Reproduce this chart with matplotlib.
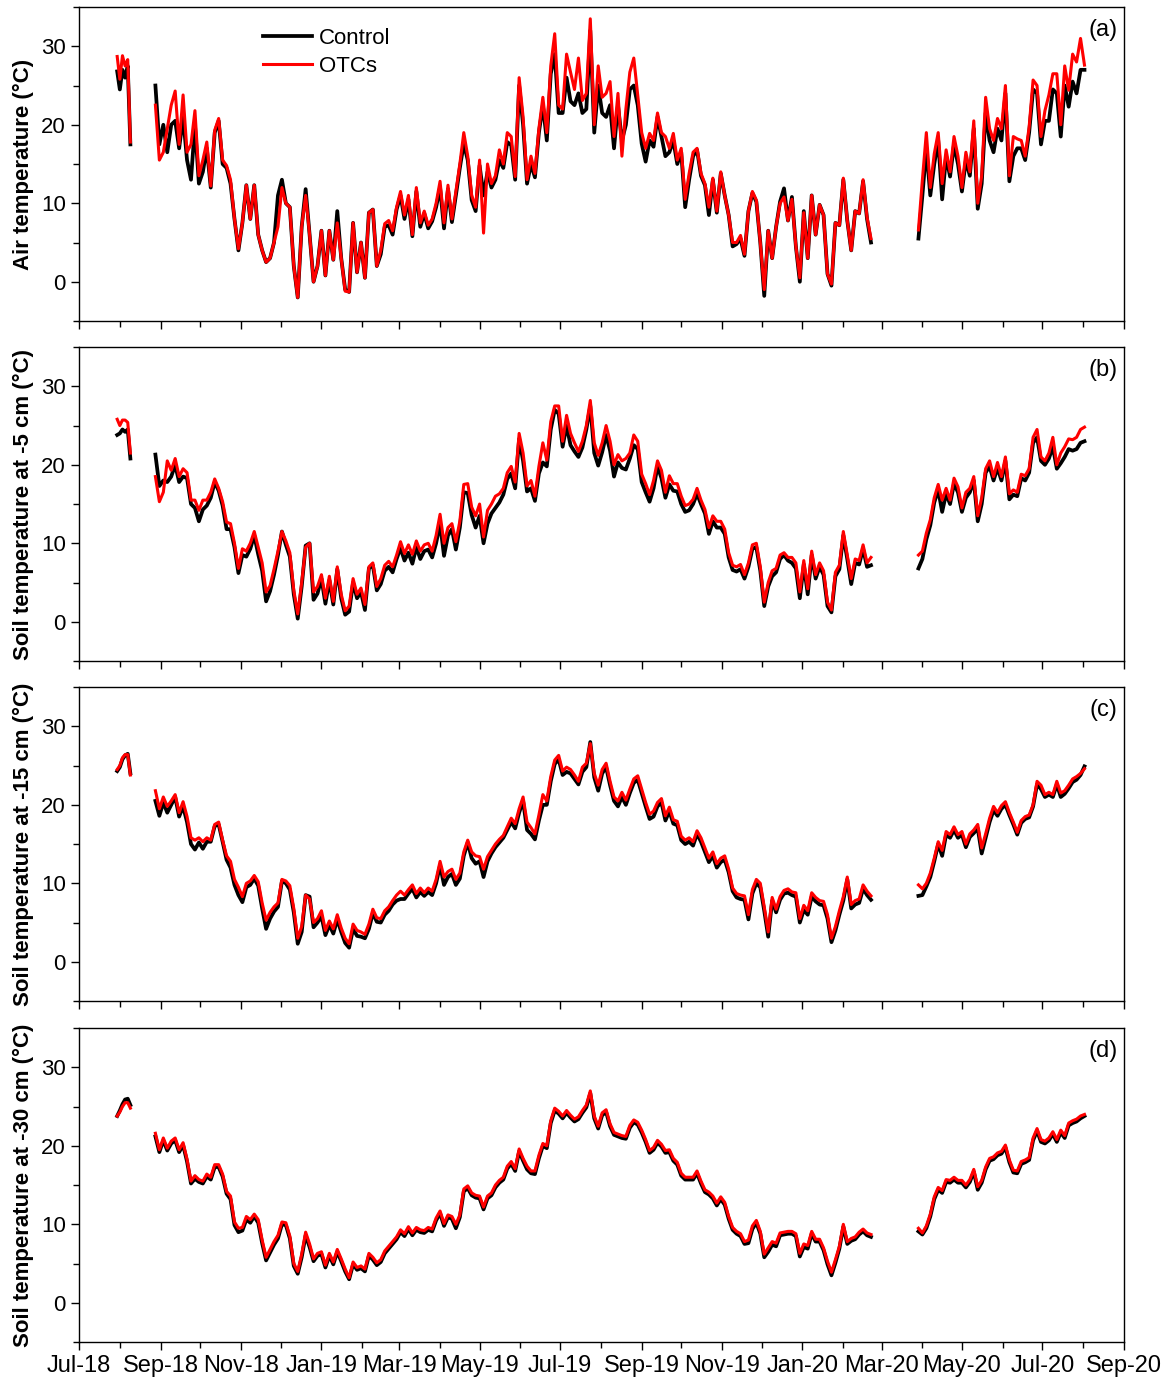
import numpy as np
import pandas as pd
import matplotlib
matplotlib.use("Agg")
import matplotlib.pyplot as plt
import matplotlib.dates as mdates
from matplotlib.ticker import MultipleLocator

plt.rcParams['font.family'] = ['Liberation Sans', 'DejaVu Sans']

# Logger segments: (first day, step in days, number of records)
segments = [('2018-07-30', 2, 6), ('2018-08-28', 3, 182), ('2020-03-29', 3, 43)]

# Air temperature (degC)
air_ctrl = [
    26.8, 24.5, 27.0, 26.0, 27.5, 17.5,
    25.0, 17.5, 20.0, 16.5, 20.0, 20.5, 17.0, 21.0, 15.5, 13.0,
    20.0, 12.5, 14.0, 17.0, 12.0, 19.0, 20.5, 15.0, 14.5, 12.5,
    8.0, 4.0, 7.5, 12.3, 8.0, 12.3, 6.0, 4.0, 2.5, 3.0,
    5.0, 11.0, 13.0, 10.0, 9.5, 2.0, -2.0, 7.0, 11.8, 6.0,
    0.0, 2.0, 6.5, 0.8, 6.5, 2.8, 9.0, 3.0, -1.0, -1.3,
    7.5, 1.2, 5.0, 0.5, 8.8, 9.2, 2.0, 3.5, 7.0, 7.2,
    6.0, 9.2, 11.0, 8.0, 10.5, 5.8, 11.5, 7.0, 8.7, 6.8,
    7.7, 9.5, 12.0, 6.8, 11.8, 7.6, 11.0, 14.5, 17.6, 15.5,
    10.4, 9.0, 14.8, 11.0, 14.0, 12.0, 13.0, 15.5, 14.5, 17.8,
    17.4, 13.0, 25.0, 20.0, 12.5, 15.0, 13.3, 19.0, 22.5, 18.0,
    26.5, 29.0, 21.5, 21.5, 26.0, 23.0, 22.5, 24.0, 21.5, 22.0,
    32.0, 19.0, 25.0, 21.5, 21.0, 22.5, 17.0, 22.5, 18.0, 20.0,
    24.5, 25.0, 22.5, 17.6, 15.3, 18.0, 17.2, 21.0, 18.5, 16.0,
    16.5, 18.0, 15.0, 16.5, 9.5, 13.0, 16.0, 16.8, 13.5, 12.3,
    8.5, 13.0, 8.8, 13.8, 11.0, 8.5, 4.5, 4.8, 5.5, 3.3,
    9.0, 11.3, 10.2, 5.0, -1.8, 6.5, 3.0, 7.0, 10.2, 11.9,
    7.8, 10.8, 4.5, 0.0, 9.0, 3.0, 11.0, 6.0, 9.8, 8.5,
    1.0, -0.5, 7.5, 7.2, 13.0, 7.8, 4.0, 9.0, 8.7, 12.8,
    8.0, 5.0,
    5.5, 11.0, 17.0, 11.0, 15.0, 18.0, 10.5, 16.0, 13.4, 17.5,
    15.0, 11.5, 15.5, 13.5, 19.5, 9.3, 12.5, 21.5, 18.0, 16.5,
    19.5, 18.0, 24.0, 12.8, 16.0, 17.0, 17.0, 15.5, 19.0, 24.5,
    24.0, 17.5, 20.5, 20.5, 24.5, 24.0, 18.5, 25.0, 22.3, 25.5,
    24.0, 27.0, 27.0,
]
air_otc = [
    28.7, 25.8, 28.8, 27.5, 28.3, 17.8,
    22.5, 15.5, 16.5, 19.5, 22.5, 24.3, 17.5, 23.8, 16.5, 17.5,
    21.8, 13.5, 15.5, 17.8, 12.2, 19.3, 20.8, 15.5, 14.8, 13.0,
    8.0, 4.2, 7.5, 12.3, 8.0, 12.3, 6.0, 4.0, 2.5, 3.0,
    5.0, 7.0, 12.0, 10.0, 9.5, 2.0, -2.0, 7.0, 11.0, 6.0,
    0.0, 2.0, 6.5, 0.8, 6.5, 2.8, 7.5, 3.0, -1.2, -1.3,
    7.5, 1.2, 5.0, 0.5, 8.8, 9.2, 2.0, 4.0, 7.4, 7.8,
    6.5, 9.5, 11.5, 8.5, 11.0, 6.0, 12.0, 7.5, 9.0, 7.2,
    8.0, 10.0, 12.8, 7.5, 12.3, 8.0, 11.5, 15.0, 19.0, 16.0,
    11.0, 9.5, 15.5, 6.2, 15.0, 12.5, 13.5, 16.8, 15.0, 19.0,
    18.5, 13.4, 26.0, 21.0, 13.0, 16.0, 13.8, 19.5, 23.5, 19.0,
    27.5, 31.6, 22.5, 22.0, 29.0, 26.7, 24.5, 28.5, 23.1, 24.0,
    33.5, 20.0, 27.5, 23.5, 24.0, 25.5, 18.5, 24.0, 16.0, 22.0,
    26.7, 28.5, 23.8, 19.0, 17.0, 18.9, 18.0, 21.5, 19.0, 18.5,
    17.0, 18.9, 15.5, 17.0, 10.5, 13.8, 16.5, 17.0, 13.8, 12.5,
    9.5, 13.2, 9.0, 14.0, 11.0, 8.5, 5.0, 5.0, 5.9, 3.5,
    9.0, 11.5, 10.4, 5.0, -1.0, 6.5, 3.0, 7.0, 10.0, 10.8,
    7.8, 10.5, 4.5, 0.5, 8.8, 3.0, 11.0, 6.0, 9.8, 8.5,
    1.0, -0.3, 7.5, 7.2, 13.2, 7.8, 4.0, 9.0, 8.7, 13.0,
    8.2, 5.5,
    6.6, 13.0, 19.0, 12.0, 16.3, 19.0, 12.5, 16.8, 14.0, 18.5,
    16.0, 12.0, 16.5, 14.0, 20.5, 10.0, 13.5, 23.5, 19.5, 18.0,
    20.8, 19.5, 25.0, 13.5, 18.5, 18.2, 18.0, 16.0, 19.7, 25.7,
    25.0, 18.5, 21.8, 23.8, 26.5, 26.5, 20.0, 27.5, 24.4, 29.0,
    28.0, 31.0, 27.6,
]

# Soil temperature at -5 cm (degC)
soil5_ctrl = [
    23.8, 24.0, 24.5, 24.2, 24.5, 20.8,
    21.3, 17.3, 18.0, 17.8, 18.5, 20.0, 17.8, 18.5, 18.3, 15.0,
    14.5, 12.8, 14.3, 14.8, 15.8, 17.8, 16.7, 14.8, 11.8, 11.8,
    9.5, 6.2, 8.5, 8.3, 9.3, 11.0, 8.6, 6.5, 2.6, 3.9,
    6.0, 8.5, 11.5, 9.8, 8.3, 3.5, 0.4, 4.5, 9.7, 10.0,
    2.8, 3.6, 5.5, 2.3, 5.3, 2.2, 6.7, 3.0, 0.9, 1.3,
    5.0, 3.0, 3.8, 1.5, 6.8, 7.2, 4.0, 4.8, 6.5, 7.0,
    6.3, 8.0, 9.4, 7.8, 8.8, 7.4, 9.5, 8.0, 9.0, 9.2,
    8.2, 10.0, 12.5, 8.4, 11.0, 11.8, 9.2, 12.0, 16.5, 16.4,
    13.6, 12.0, 13.5, 10.0, 12.5, 13.8, 14.5, 15.2, 16.2, 18.2,
    18.9, 17.0, 23.3, 20.5, 16.6, 17.0, 15.4, 18.9, 20.3, 19.8,
    24.5, 27.0, 26.5, 22.3, 25.0, 22.5, 21.7, 21.0, 22.2, 24.5,
    27.5, 21.5, 19.9, 21.6, 23.8, 21.8, 18.5, 20.3, 19.6, 19.4,
    20.8, 22.5, 22.0, 17.8, 16.5, 15.3, 17.0, 19.8, 18.3, 15.8,
    17.5, 16.7, 16.6, 15.0, 14.0, 14.2, 15.0, 16.3, 15.0, 13.8,
    11.2, 12.8, 12.0, 12.0, 11.2, 8.2, 6.6, 6.4, 6.7, 5.5,
    7.0, 9.3, 9.5, 6.5, 2.0, 4.5, 5.8, 6.3, 8.0, 8.5,
    7.8, 7.5, 6.8, 3.0, 7.3, 3.5, 8.5, 5.5, 7.0, 6.0,
    2.0, 1.2, 5.8, 6.7, 11.0, 8.0, 4.8, 7.5, 7.3, 9.3,
    7.0, 7.2,
    6.8, 8.0, 10.5, 12.3, 15.2, 16.8, 14.0, 16.3, 15.0, 17.6,
    16.5, 14.0, 15.8, 16.5, 18.0, 12.8, 15.0, 19.0, 19.8, 18.0,
    19.6, 18.0, 20.5, 15.6, 16.2, 16.0, 18.3, 18.0, 19.0, 22.8,
    23.5, 20.5, 20.0, 20.8, 22.3, 19.5, 20.2, 21.0, 22.0, 21.8,
    22.0, 22.8, 23.0,
]
soil5_otc = [
    25.8, 25.0, 25.7, 25.7, 25.4, 21.5,
    18.5, 15.3, 16.5, 20.5, 19.3, 20.8, 18.5, 19.5, 19.0, 15.5,
    15.5, 14.2, 15.5, 15.5, 16.5, 18.2, 17.0, 15.3, 12.7, 12.5,
    10.0, 6.8, 9.3, 9.0, 10.0, 11.5, 9.5, 7.5, 3.8, 4.6,
    6.7, 9.0, 11.5, 10.3, 8.8, 4.0, 1.0, 5.0, 9.5, 10.0,
    3.8, 4.5, 6.0, 3.0, 5.8, 2.6, 7.0, 3.5, 1.4, 2.0,
    5.5, 3.5, 4.3, 2.2, 7.0, 7.5, 4.5, 5.5, 7.2, 7.7,
    7.0, 8.5, 10.2, 8.7, 9.8, 8.6, 10.3, 9.0, 9.8, 10.0,
    9.0, 11.0, 13.7, 10.0, 12.0, 12.5, 10.2, 12.8, 17.5, 17.6,
    14.6, 13.5, 15.0, 10.8, 14.2, 15.0, 16.0, 16.3, 17.0, 19.0,
    19.8, 17.8, 24.0, 21.5, 17.3, 18.0, 16.0, 19.8, 22.8, 20.6,
    25.5, 27.5, 27.5, 23.0, 26.3, 24.0, 22.8, 21.7, 23.0, 25.0,
    28.2, 22.8, 21.2, 22.8, 25.0, 23.0, 20.0, 21.3, 20.5, 20.8,
    21.5, 23.8, 23.0, 18.8, 17.6, 16.2, 18.0, 20.5, 19.3, 16.5,
    18.6, 17.6, 17.6, 16.0, 14.8, 15.0, 15.6, 17.0, 15.5, 14.3,
    12.0, 13.5, 12.8, 12.8, 11.8, 8.8, 7.2, 7.0, 7.3, 6.0,
    7.5, 9.8, 10.0, 7.0, 2.5, 5.0, 6.5, 6.8, 8.5, 8.8,
    8.2, 8.2, 7.5, 3.8, 7.8, 4.2, 9.0, 6.0, 7.5, 6.5,
    2.5, 1.5, 6.3, 7.2, 11.5, 8.5, 5.5, 8.0, 7.8, 9.8,
    7.5, 8.2,
    8.5, 9.0, 11.3, 13.0, 15.8, 17.5, 15.5, 17.0, 15.5, 18.3,
    17.2, 14.5, 16.5, 17.0, 18.5, 13.5, 15.8, 19.5, 20.5, 18.5,
    20.3, 18.5, 21.0, 16.3, 16.8, 16.5, 18.8, 18.6, 19.5, 23.5,
    24.5, 21.0, 20.5, 21.5, 23.5, 20.0, 21.5, 22.3, 23.3, 23.2,
    23.5, 24.5, 24.8,
]

# Soil temperature at -15 cm (degC)
soil15_ctrl = [
    24.3, 24.8, 25.8, 26.3, 26.5, 24.0,
    20.5, 18.6, 20.3, 19.0, 20.0, 21.0, 18.5, 19.8, 17.8, 15.0,
    14.3, 15.2, 14.4, 15.3, 15.3, 17.3, 17.5, 15.3, 13.0, 12.0,
    9.8, 8.5, 7.6, 9.5, 9.8, 10.6, 9.7, 6.8, 4.2, 5.5,
    6.4, 7.0, 10.3, 10.0, 9.2, 6.3, 2.3, 3.8, 8.5, 8.3,
    4.4, 5.0, 5.8, 3.4, 4.7, 3.6, 5.4, 3.8, 2.4, 1.8,
    4.2, 3.3, 3.2, 3.0, 4.2, 6.2, 5.1, 5.0, 6.0, 6.5,
    7.3, 7.8, 8.0, 8.0, 8.7, 9.3, 8.2, 8.9, 8.4, 8.9,
    8.5, 10.0, 12.3, 9.8, 10.8, 11.2, 9.8, 10.6, 13.5, 15.2,
    13.2, 12.5, 12.8, 10.8, 12.8, 13.8, 14.6, 15.2, 15.8, 16.8,
    17.8, 17.0, 19.0, 20.5, 16.8, 16.3, 15.6, 18.0, 20.0, 20.0,
    23.0, 25.2, 25.8, 23.8, 24.2, 24.0, 23.3, 22.6, 24.2, 24.8,
    28.0, 23.5, 21.8, 24.0, 24.8, 22.5, 20.5, 19.8, 21.0, 20.0,
    21.5, 22.8, 23.2, 21.5, 19.8, 18.2, 18.5, 19.8, 20.3, 18.0,
    19.2, 17.6, 17.4, 15.5, 15.0, 15.3, 14.8, 16.3, 15.3, 14.0,
    12.7, 13.5, 12.0, 12.7, 13.0, 11.4, 9.0, 8.2, 8.0, 7.9,
    5.4, 8.7, 10.0, 9.5, 6.5, 3.2, 7.8, 6.3, 7.9, 8.7,
    8.8, 8.5, 8.3, 5.0, 6.6, 6.0, 8.3, 7.7, 7.3, 7.2,
    5.5, 2.5, 4.0, 6.0, 7.8, 10.5, 6.8, 7.3, 7.5, 9.3,
    8.5, 7.9,
    8.4, 8.5, 9.6, 10.8, 12.8, 15.0, 13.5, 16.2, 15.8, 16.8,
    15.8, 16.2, 14.6, 15.9, 16.4, 17.0, 13.8, 15.8, 17.8, 19.3,
    18.6, 19.5, 20.0, 18.7, 17.5, 16.2, 17.7, 18.2, 18.4, 19.8,
    22.6, 22.0, 21.0, 21.3, 21.0, 22.6, 21.0, 21.4, 22.1, 22.9,
    23.2, 23.8, 24.9,
]
soil15_otc = [
    24.5, 25.0, 26.0, 26.4, 26.4, 23.8,
    21.8, 19.5, 21.0, 19.8, 20.5, 21.3, 19.0, 20.4, 18.5, 15.8,
    15.5, 15.8, 15.3, 15.8, 15.5, 17.5, 17.8, 15.5, 13.5, 12.8,
    10.5, 9.5, 8.3, 10.0, 10.3, 11.0, 10.2, 7.5, 5.3, 6.3,
    7.0, 7.5, 10.5, 10.3, 9.7, 6.8, 3.0, 4.5, 8.5, 8.0,
    5.0, 5.5, 6.5, 4.0, 5.2, 4.2, 6.0, 4.3, 3.0, 2.3,
    4.8, 4.0, 3.8, 3.5, 4.8, 6.7, 5.6, 5.5, 6.5, 7.0,
    7.8, 8.5, 9.0, 8.5, 9.2, 9.8, 8.7, 9.4, 8.8, 9.4,
    9.0, 10.5, 12.8, 10.8, 11.5, 11.8, 10.5, 11.3, 14.0, 15.5,
    14.0, 13.5, 13.4, 11.8, 13.4, 14.2, 15.0, 15.6, 16.1, 17.2,
    18.3, 17.6, 19.5, 21.0, 17.8, 17.1, 16.3, 18.7, 21.3, 20.5,
    23.6, 25.7, 26.3, 24.3, 24.8, 24.5, 23.8, 23.0, 24.8, 25.3,
    27.8, 24.0, 22.5, 24.5, 25.3, 23.0, 21.0, 20.5, 21.6, 20.6,
    22.0, 23.3, 23.7, 22.0, 20.3, 18.8, 19.2, 20.3, 20.8, 18.6,
    19.7, 18.1, 17.9, 16.0, 15.5, 15.8, 15.3, 16.7, 15.8, 14.5,
    13.2, 14.0, 12.5, 13.2, 13.5, 11.8, 9.4, 8.7, 8.5, 8.4,
    6.0, 9.2, 10.5, 10.0, 7.0, 3.8, 8.2, 6.7, 8.3, 9.1,
    9.3, 8.9, 8.8, 5.5, 7.2, 6.5, 8.8, 8.2, 7.8, 7.7,
    6.0, 3.0, 4.5, 6.5, 8.3, 10.8, 7.3, 7.8, 8.0, 9.8,
    9.0, 8.4,
    9.8, 9.3, 10.0, 11.3, 13.2, 15.3, 14.2, 16.6, 16.2, 17.2,
    16.2, 16.6, 15.0, 16.3, 16.8, 17.5, 14.5, 16.3, 18.3, 19.8,
    19.0, 19.9, 20.4, 19.0, 17.8, 16.5, 18.0, 18.5, 18.7, 20.0,
    23.0, 22.5, 21.3, 21.6, 21.3, 23.0, 21.5, 21.8, 22.5, 23.3,
    23.6, 24.0, 24.6,
]

# Soil temperature at -30 cm (degC)
soil30_ctrl = [
    23.8, 24.5, 25.3, 25.9, 26.0, 25.2,
    21.2, 19.2, 20.7, 19.4, 20.3, 20.7, 19.2, 20.1, 18.0, 15.2,
    15.8, 15.4, 15.2, 16.1, 15.7, 17.3, 17.3, 16.1, 13.9, 13.2,
    9.9, 9.0, 9.2, 10.6, 10.2, 11.0, 10.2, 7.6, 5.4, 6.4,
    7.4, 8.2, 10.0, 9.9, 8.2, 4.7, 3.7, 5.8, 8.6, 7.1,
    5.3, 6.0, 6.2, 4.5, 6.0, 4.9, 6.5, 5.3, 4.0, 3.0,
    4.9, 4.2, 4.4, 4.0, 6.0, 5.5, 4.8, 5.2, 6.3, 6.9,
    7.5, 8.1, 9.0, 8.5, 9.4, 8.6, 9.3, 9.0, 8.9, 9.3,
    9.1, 10.5, 11.4, 9.8, 10.9, 10.7, 9.5, 10.9, 14.2, 14.6,
    13.7, 13.4, 13.3, 11.9, 13.3, 13.7, 14.7, 15.3, 15.7, 17.1,
    17.7, 16.8, 19.3, 18.1, 17.0, 16.5, 16.4, 18.4, 20.0, 19.7,
    22.9, 24.5, 24.1, 23.5, 24.2, 23.6, 23.1, 23.4, 24.2, 24.9,
    26.7, 23.5, 22.2, 23.9, 24.3, 22.5, 21.4, 21.2, 21.0, 20.9,
    22.3, 23.0, 22.7, 21.7, 20.5, 19.1, 19.5, 20.4, 19.9, 19.1,
    19.2, 18.1, 17.6, 16.2, 15.7, 15.7, 15.7, 16.5, 15.2, 14.1,
    13.8, 13.3, 12.4, 13.2, 12.5, 10.7, 9.3, 8.8, 8.5, 7.5,
    7.6, 9.4, 10.2, 8.8, 5.8, 6.5, 7.4, 7.2, 8.6, 8.7,
    8.8, 8.8, 8.5, 5.9, 7.1, 6.9, 8.8, 7.8, 7.8, 6.7,
    4.9, 3.5, 5.1, 6.9, 9.7, 7.5, 7.9, 8.1, 8.7, 9.1,
    8.6, 8.4,
    9.1, 8.7, 9.5, 11.0, 13.2, 14.4, 14.0, 15.4, 15.3, 15.7,
    15.3, 15.3, 14.7, 15.4, 16.7, 14.4, 15.3, 17.0, 18.1, 18.3,
    18.8, 19.0, 19.8, 17.9, 16.6, 16.5, 17.7, 17.9, 18.2, 20.7,
    21.9, 20.5, 20.3, 20.7, 21.5, 20.5, 21.7, 21.0, 22.6, 22.9,
    23.1, 23.5, 23.8,
]
soil30_otc = [
    23.8, 24.3, 25.0, 25.5, 25.5, 24.8,
    21.6, 19.5, 21.0, 19.7, 20.6, 21.0, 19.5, 20.4, 18.3, 15.5,
    16.2, 15.7, 15.5, 16.4, 16.0, 17.6, 17.6, 16.4, 14.2, 13.6,
    10.3, 9.5, 9.6, 11.0, 10.6, 11.3, 10.6, 8.0, 5.8, 6.8,
    7.8, 8.6, 10.3, 10.2, 8.5, 5.0, 4.0, 6.2, 9.0, 7.5,
    5.6, 6.3, 6.5, 4.8, 6.3, 5.2, 6.8, 5.6, 4.3, 3.2,
    5.2, 4.5, 4.7, 4.3, 6.3, 5.8, 5.1, 5.5, 6.6, 7.2,
    7.8, 8.4, 9.3, 8.8, 9.7, 8.9, 9.6, 9.3, 9.2, 9.6,
    9.4, 10.8, 11.7, 10.1, 11.2, 11.0, 10.0, 11.2, 14.5, 14.9,
    14.0, 13.7, 13.6, 12.2, 13.6, 14.0, 15.0, 15.6, 16.0, 17.4,
    18.0, 17.1, 19.6, 18.4, 17.4, 16.8, 16.8, 18.8, 20.3, 20.0,
    23.2, 24.8, 24.4, 23.8, 24.5, 23.9, 23.4, 23.7, 24.5, 25.2,
    27.0, 23.8, 22.5, 24.2, 24.6, 22.8, 21.7, 21.5, 21.3, 21.2,
    22.6, 23.3, 23.0, 22.0, 20.8, 19.4, 19.8, 20.7, 20.2, 19.4,
    19.5, 18.4, 17.9, 16.5, 16.0, 16.0, 16.0, 16.8, 15.5, 14.4,
    14.1, 13.6, 12.7, 13.5, 12.8, 11.0, 9.6, 9.1, 8.8, 7.8,
    8.0, 9.8, 10.5, 9.1, 6.2, 7.0, 7.8, 7.6, 8.9, 9.0,
    9.1, 9.1, 8.8, 6.3, 7.5, 7.3, 9.1, 8.1, 8.1, 7.0,
    5.3, 3.9, 5.5, 7.2, 10.0, 7.8, 8.2, 8.4, 9.0, 9.4,
    8.9, 8.7,
    9.5, 8.9, 9.8, 11.3, 13.5, 14.7, 14.3, 15.7, 15.6, 16.0,
    15.6, 15.6, 15.0, 15.7, 17.0, 14.8, 15.6, 17.3, 18.4, 18.6,
    19.1, 19.3, 20.1, 18.2, 16.9, 16.8, 18.0, 18.2, 18.5, 21.0,
    22.2, 20.8, 20.6, 21.0, 21.8, 20.8, 22.0, 21.3, 22.9, 23.2,
    23.4, 23.8, 24.0,
]

ylabels = ['Air temperature (°C)', 'Soil temperature at -5 cm (°C)',
           'Soil temperature at -15 cm (°C)', 'Soil temperature at -30 cm (°C)']
panel_tags = ['(a)', '(b)', '(c)', '(d)']
series = [(air_ctrl, air_otc), (soil5_ctrl, soil5_otc),
          (soil15_ctrl, soil15_otc), (soil30_ctrl, soil30_otc)]

seg_dates = [pd.date_range(s, periods=n, freq=f'{d}D') for s, d, n in segments]


def split(values):
    values = np.asarray(values, dtype=float)
    assert len(values) == sum(n for _, _, n in segments), len(values)
    out, i = [], 0
    for _, _, n in segments:
        out.append(values[i:i + n])
        i += n
    return out


fig = plt.figure(figsize=(11.7, 13.8), dpi=100)
left, width, height = 0.0675, 0.8932, 0.2275
bottoms = [0.7674, 0.5210, 0.2746, 0.0275]

for i, ((ctrl, otc), ylab, tag) in enumerate(zip(series, ylabels, panel_tags)):
    ax = fig.add_axes([left, bottoms[i], width, height])
    for d, c, o in zip(seg_dates, split(ctrl), split(otc)):
        lc, = ax.plot(d, c, color='black', lw=2.7, solid_joinstyle='round')
        lo, = ax.plot(d, o, color='red', lw=2.2, solid_joinstyle='round')

    ax.set_xlim(pd.Timestamp('2018-07-01'), pd.Timestamp('2020-09-01'))
    ax.set_ylim(-5, 35)
    ax.set_yticks([0, 10, 20, 30])
    ax.yaxis.set_minor_locator(MultipleLocator(5))
    ax.xaxis.set_major_locator(mdates.MonthLocator(bymonth=[1, 3, 5, 7, 9, 11]))
    ax.xaxis.set_minor_locator(mdates.MonthLocator())
    ax.xaxis.set_major_formatter(mdates.DateFormatter('%b-%y'))
    ax.tick_params(which='major', direction='out', length=6, width=1.0, labelsize=16)
    ax.tick_params(axis='x', which='major', labelsize=17)
    ax.tick_params(which='minor', direction='out', length=4, width=1.0)
    if i < 3:
        ax.tick_params(axis='x', labelbottom=False)
    for sp in ax.spines.values():
        sp.set_linewidth(1.0)

    ax.set_ylabel(ylab, fontsize=16, fontweight='bold', labelpad=5)
    ax.text(0.994, 0.927, tag, transform=ax.transAxes, ha='right', va='center',
            fontsize=17)

    if i == 0:
        ax.legend([lc, lo], ['Control', 'OTCs'], loc='upper left',
                  bbox_to_anchor=(0.163, 0.975), frameon=False, fontsize=16,
                  handlelength=2.2, handletextpad=0.35, labelspacing=0.3,
                  borderaxespad=0.2)

fig.savefig('out.png', dpi=100)
